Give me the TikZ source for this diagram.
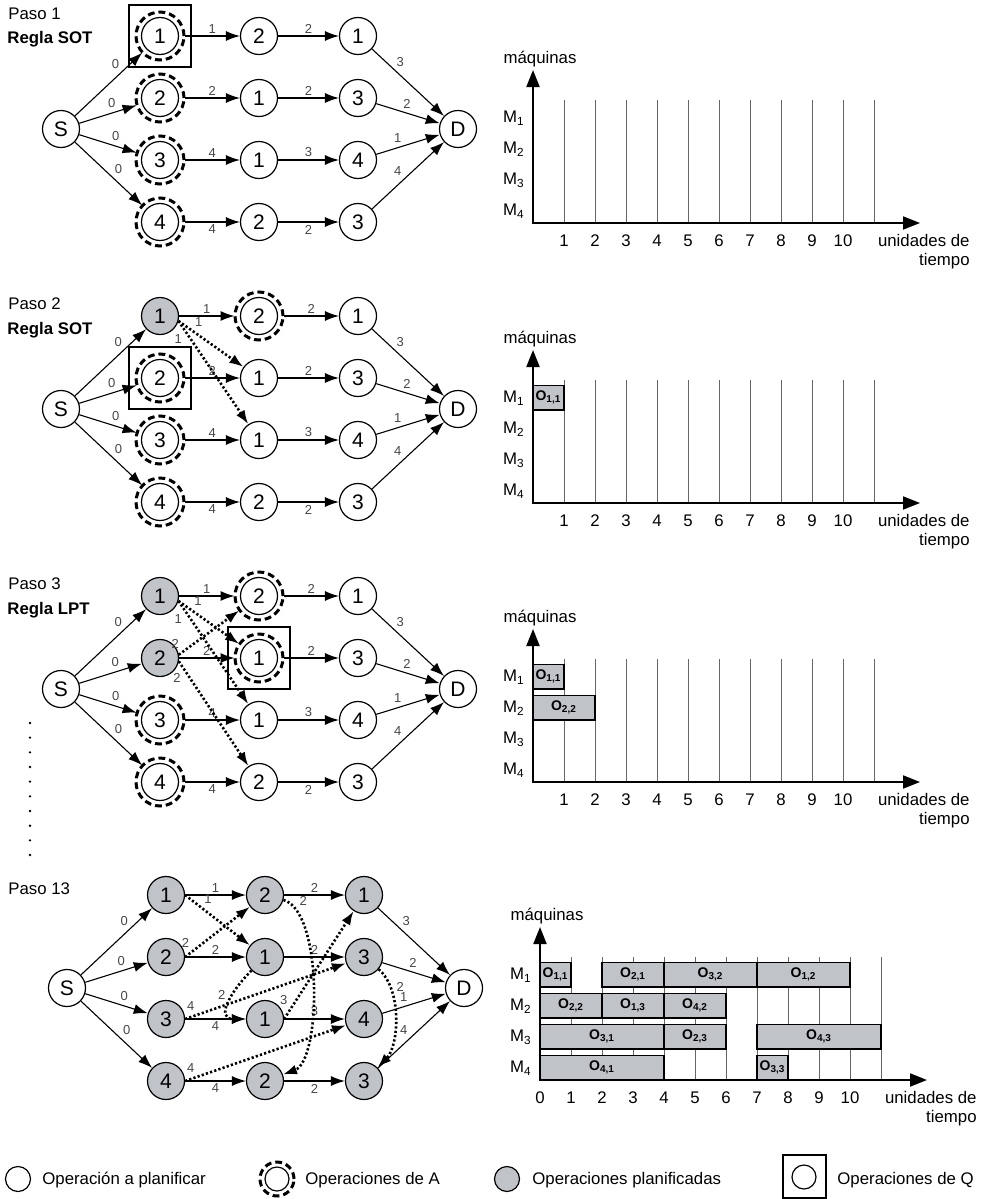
\documentclass[tikz,border=0pt]{standalone}
\usepackage{fontspec}
\setmainfont{Liberation Sans}
\usetikzlibrary{arrows.meta}

\definecolor{planned}{RGB}{192,195,200}
\definecolor{weightgray}{RGB}{70,70,70}

\begin{document}
\begin{tikzpicture}[
  x=0.5pt, y=-0.5pt,
  font=\fontsize{8.4}{10}\selectfont,
  op/.style={draw, circle, line width=0.6pt, minimum size=18.5pt, inner sep=0pt,
    font=\fontsize{10.5}{10.5}\selectfont},
  opA/.style={op, outer sep=3pt},
  done/.style={op, fill=planned},
  ring/.style={line width=1.5pt, dash pattern=on 3.4pt off 2pt},
  qbox/.style={draw, line width=0.6pt, minimum size=31pt, inner sep=0pt},
  wt/.style={auto, inner sep=1.2pt, text=weightgray, font=\fontsize{6.5}{6.5}\selectfont},
  arrow/.style={-{Latex[length=7pt, width=5pt]}, line width=0.55pt},
  disj/.style={arrow, line width=1.3pt, dash pattern=on 1.1pt off 1.1pt},
  axis/.style={{Triangle[length=8.5pt, width=6.5pt]}-{Triangle[length=8.5pt, width=6.5pt]}, line width=1pt},
  grid/.style={black!60, line width=0.5pt},
  bar/.style={draw, fill=planned, line width=0.7pt},
  oplab/.style={font=\fontsize{7}{7}\selectfont\bfseries},
  txt/.style={inner sep=0pt},
  paso/.style={txt, anchor=base west},
  regla/.style={paso, font=\fontsize{8.4}{10}\selectfont\bfseries}
]
\useasboundingbox (0,0) rectangle (984,1199);

% ---- Paso 1
\node[paso] (p1) at (8,19) {Paso 1};
\node[regla] (r1) at (7,43) {Regla SOT};
\node[op] (aS) at (61,129) {S};
\node[op] (aD) at (458,129) {D};
\foreach \r/\c/\lab/\st in {1/1/1/opA, 1/2/2/op, 1/3/1/op, 2/1/2/opA, 2/2/1/op, 2/3/3/op,
    3/1/3/opA, 3/2/1/op, 3/3/4/op, 4/1/4/opA, 4/2/2/op, 4/3/3/op}
  \node[\st] (a\r\c) at ({61+99*\c},{-26+62*\r}) {\lab};

% ---- Paso 2
\node[paso] (p2) at (8,309) {Paso 2};
\node[regla] (r2) at (7,334) {Regla SOT};
\begin{scope}[shift={(0,280)}]
  \node[op] (bS) at (61,129) {S};
  \node[op] (bD) at (458,129) {D};
  \foreach \r/\c/\lab/\st in {1/1/1/done, 1/2/2/opA, 1/3/1/op, 2/1/2/opA, 2/2/1/op, 2/3/3/op,
      3/1/3/opA, 3/2/1/op, 3/3/4/op, 4/1/4/opA, 4/2/2/op, 4/3/3/op}
    \node[\st] (b\r\c) at ({61+99*\c},{-26+62*\r}) {\lab};
\end{scope}

% ---- Paso 3
\node[paso] (p3) at (8,589) {Paso 3};
\node[regla] (r3) at (7,614) {Regla LPT};
\begin{scope}[shift={(0,560)}]
  \node[op] (cS) at (61,129) {S};
  \node[op] (cD) at (458,129) {D};
  \foreach \r/\c/\lab/\st in {1/1/1/done, 1/2/2/opA, 1/3/1/op, 2/1/2/done, 2/2/1/opA, 2/3/3/op,
      3/1/3/opA, 3/2/1/op, 3/3/4/op, 4/1/4/opA, 4/2/2/op, 4/3/3/op}
    \node[\st] (c\r\c) at ({61+99*\c},{-26+62*\r}) {\lab};
\end{scope}

% ---- Paso 13
\node[paso] (p13) at (8,894) {Paso 13};
\begin{scope}[shift={(6,859)}]
  \node[op] (dS) at (61,129) {S};
  \node[op] (dD) at (458,129) {D};
  \foreach \r/\c/\lab in {1/1/1, 1/2/2, 1/3/1, 2/1/2, 2/2/1, 2/3/3,
      3/1/3, 3/2/1, 3/3/4, 4/1/4, 4/2/2, 4/3/3}
    \node[done] (d\r\c) at ({61+99*\c},{-26+62*\r}) {\lab};
\end{scope}

% dotted column between Paso 3 and Paso 13
\foreach \k in {0,...,9} \fill ({30},{723+14.67*\k}) circle[radius=0.65pt];

% operations in A and in Q
\foreach \v in {a11,a21,a31,a41,b12,b21,b31,b41,c12,c22,c31,c41}
  \draw[ring] (\v.center) circle[radius=12pt];
\node[qbox] (aQ) at (a11) {};
\node[qbox] (bQ) at (b21) {};
\node[qbox] (cQ) at (c22) {};

% conjunctive arcs
\foreach \p/\q in {a/auto, b/auto, c/auto, d/swap} {
  \foreach \r/\ps in {1/.7, 2/.68, 3/.52, 4/.55}
    \draw[arrow] (\p S) -- node[wt, pos=\ps] {0} (\p\r1);
  \draw[arrow] (\p11) -- node[wt] {1} (\p12);
  \draw[arrow] (\p12) -- node[wt] {2} (\p13);
  \draw[arrow] (\p13) -- node[wt, pos=.3] {3} (\p D);
  \draw[arrow] (\p21) -- node[wt] {2} (\p22);
  \draw[arrow] (\p22) -- node[wt] {2} (\p23);
  \draw[arrow] (\p23) -- node[wt, pos=.38] {2} (\p D);
  \draw[arrow] (\p31) -- node[wt, \q] {4} (\p32);
  \draw[arrow] (\p32) -- node[wt] {3} (\p33);
  \draw[arrow] (\p33) -- node[wt, pos=.44] {1} (\p D);
  \draw[arrow] (\p41) -- node[wt, swap] {4} (\p42);
  \draw[arrow] (\p42) -- node[wt, swap] {2} (\p43);
  \draw[arrow] (\p43) -- node[wt, pos=.45] {4} (\p D);
}

% disjunctive arcs
\draw[disj] (b11.-15) -- node[wt, pos=.2] {1} (b22);
\draw[disj] (b11.-15) -- node[wt, swap, pos=.1] {1} (b32);
\draw[disj] (c11.-15) -- node[wt, pos=.2] {1} (c22);
\draw[disj] (c11.-15) -- node[wt, swap, pos=.1] {1} (c32);
\draw[disj] (c21.10) -- node[wt, pos=.06] {2} (c12);
\draw[disj] (c21.-10) -- node[wt, swap, pos=.08] {2} (c42);
\draw[disj] (d11.east) -- node[wt, pos=.24] {1} (d22);
\draw[disj] (d21.east) -- node[wt, pos=.12] {2} (d12);
\draw[disj] (d12) to[out=-15, in=20, looseness=.6] node[wt, pos=.12] {2} (d42);
\draw[disj] (d22) to[out=225, in=180, looseness=1.6] node[wt, swap] {2} (d32);
\draw[disj] (d32.east) -- node[wt, pos=.1] {3} (d13);
\draw[disj] (d31.east) -- node[wt, pos=.08] {4} (d23);
\draw[disj] (d23) to[out=-40, in=45, looseness=.8] node[wt, pos=.3] {2} (d43);
\draw[disj] (d41.east) -- node[wt, pos=.08] {4} (d33);

% Gantt charts
\foreach \ox/\oy [count=\g] in {533/223, 533/503, 533/782, 540/1080} {
  \begin{scope}[shift={(\ox,\oy)}]
    \foreach \t in {1,...,11} \draw[grid] ({31*\t},0) -- ({31*\t},-123);
    \draw[axis] (0,-153) -- (0,0) -- (387,0);
    \node[txt, anchor=base] (maq\g) at (7,-160) {máquinas};
    \foreach \m in {1,...,4}
      \node[txt, anchor=east] (m\g\m) at (-8,{-105+31*(\m-1)}) {M\textsubscript{\m}};
    \foreach \t in {1,...,10} \node[txt, anchor=base] (t\g\t) at ({31*\t},23) {\t};
    \node[txt, anchor=base east] (ud\g) at (437,23) {unidades de};
    \node[txt, anchor=base east] (ti\g) at (437,42) {tiempo};
  \end{scope}
}
\node[txt, anchor=base] (t40) at (540,1103) {0};

\begin{scope}[shift={(533,503)}]
  \foreach \s/\e/\m/\l in {0/1/1/{1,1}} {
    \draw[bar] ({31*\s},{-31*(4-\m)}) rectangle ({31*\e},{-31*(4-\m)-24.5});
    \node[oplab] (o2-\m-\s) at ({15.5*(\s+\e)},{-31*(4-\m)-12.25}) {O\textsubscript{\l}};
  }
\end{scope}
\begin{scope}[shift={(533,782)}]
  \foreach \s/\e/\m/\l in {0/1/1/{1,1}, 0/2/2/{2,2}} {
    \draw[bar] ({31*\s},{-31*(4-\m)}) rectangle ({31*\e},{-31*(4-\m)-24.5});
    \node[oplab] (o3-\m-\s) at ({15.5*(\s+\e)},{-31*(4-\m)-12.25}) {O\textsubscript{\l}};
  }
\end{scope}
\begin{scope}[shift={(540,1080)}]
  \foreach \s/\e/\m/\l in {0/1/1/{1,1}, 2/4/1/{2,1}, 4/7/1/{3,2}, 7/10/1/{1,2},
      0/2/2/{2,2}, 2/4/2/{1,3}, 4/6/2/{4,2},
      0/4/3/{3,1}, 4/6/3/{2,3}, 7/11/3/{4,3},
      0/4/4/{4,1}, 7/8/4/{3,3}} {
    \draw[bar] ({31*\s},{-31*(4-\m)}) rectangle ({31*\e},{-31*(4-\m)-24.5});
    \node[oplab] (o4-\m-\s) at ({15.5*(\s+\e)},{-31*(4-\m)-12.25}) {O\textsubscript{\l}};
  }
\end{scope}

% legend
\node[op, minimum size=12.5pt] (lg1) at (18,1179) {};
\node[paso] (lt1) at (42,1184) {Operación a planificar};
\node[op, minimum size=12pt] (lg2) at (277,1179) {};
\draw[ring] (lg2.center) circle[radius=8.5pt];
\node[paso] (lt2) at (305,1184) {Operaciones de A};
\node[done, minimum size=12.5pt] (lg3) at (507,1179) {};
\node[paso] (lt3) at (532,1184) {Operaciones planificadas};
\node[op, minimum size=12pt] (lg4) at (804,1177) {};
\node[qbox, minimum size=21.5pt] (lQ) at (804.5,1176.5) {};
\node[paso] (lt4) at (837,1184) {Operaciones de Q};
\end{tikzpicture}
\end{document}
